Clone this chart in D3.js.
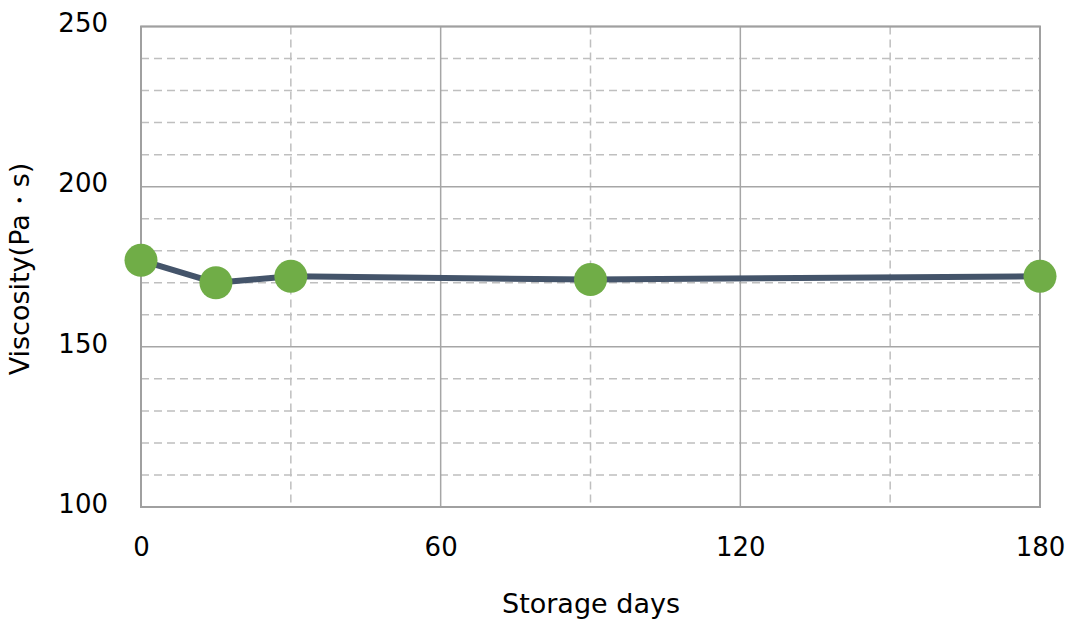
<!DOCTYPE html>
<html><head><meta charset="utf-8">
<script src="https://cdn.jsdelivr.net/npm/d3@7"></script>
<style>body{margin:0;background:#fff;}svg{display:block;font-family:"DejaVu Sans",Verdana,sans-serif;}</style>
</head><body><svg id="c" width="1068" height="619"></svg>
<script>
const days = [0, 15, 30, 90, 180];
const viscosity = [177, 170, 172, 171, 172];
const xTicks = [0, 60, 120, 180];
const yTicks = [100, 150, 200, 250];
const xMinor = [30, 90, 150];
const yMinor = [110,120,130,140,160,170,180,190,210,220,230,240];

const svg = d3.select("#c");
const L = 141, R = 1040, T = 26.5, B = 507;
const x = d3.scaleLinear().domain([0,180]).range([L,R]);
const y = d3.scaleLinear().domain([100,250]).range([B,T]);

const g = svg.append("g");
g.selectAll(".ym").data(yMinor).join("line")
  .attr("x1",L).attr("x2",R).attr("y1",d=>y(d)).attr("y2",d=>y(d))
  .attr("stroke","#bfbfbf").attr("stroke-width",1.5).attr("stroke-dasharray","8,5");
g.selectAll(".xm").data(xMinor).join("line")
  .attr("y1",T).attr("y2",B).attr("x1",d=>x(d)).attr("x2",d=>x(d))
  .attr("stroke","#bfbfbf").attr("stroke-width",1.5).attr("stroke-dasharray","8,5");
g.selectAll(".yM").data(yTicks).join("line")
  .attr("x1",L).attr("x2",R).attr("y1",d=>y(d)).attr("y2",d=>y(d))
  .attr("stroke","#a6a6a6").attr("stroke-width",1.5);
g.selectAll(".xM").data(xTicks).join("line")
  .attr("y1",T).attr("y2",B).attr("x1",d=>x(d)).attr("x2",d=>x(d))
  .attr("stroke","#a6a6a6").attr("stroke-width",1.5);
g.append("rect").attr("x",L).attr("y",T).attr("width",R-L).attr("height",B-T)
  .attr("fill","none").attr("stroke","#a0a0a0").attr("stroke-width",2);

const yAxis = svg.append("g").attr("transform",`translate(${L},0)`)
  .call(d3.axisLeft(y).tickValues(yTicks).tickSize(0).tickPadding(33));
const xAxis = svg.append("g").attr("transform",`translate(0,${B})`)
  .call(d3.axisBottom(x).tickValues(xTicks).tickSize(0).tickPadding(31));
[yAxis,xAxis].forEach(a=>{a.select(".domain").remove();
  a.selectAll("text").attr("font-size",26).attr("fill","#000").attr("font-family","DejaVu Sans, Verdana, sans-serif");});
yAxis.selectAll("text").attr("dy","0.2em");

const data = days.map((d,i)=>({d, v:viscosity[i]}));
svg.append("path").datum(data)
  .attr("d", d3.line().x(p=>x(p.d)).y(p=>y(p.v)))
  .attr("fill","none").attr("stroke","#44546a").attr("stroke-width",6).attr("stroke-linejoin","round");
svg.selectAll(".pt").data(data).join("circle")
  .attr("cx",p=>x(p.d)).attr("cy",p=>y(p.v)).attr("r",16.5).attr("fill","#70ad47");

svg.append("text").attr("x",591).attr("y",613).attr("text-anchor","middle")
  .attr("font-size",27).text("Storage days");
svg.append("text").attr("transform",`translate(29,269) rotate(-90)`)
  .attr("text-anchor","middle").attr("font-size",27).text("Viscosity(Pa・s)");
</script></body></html>
